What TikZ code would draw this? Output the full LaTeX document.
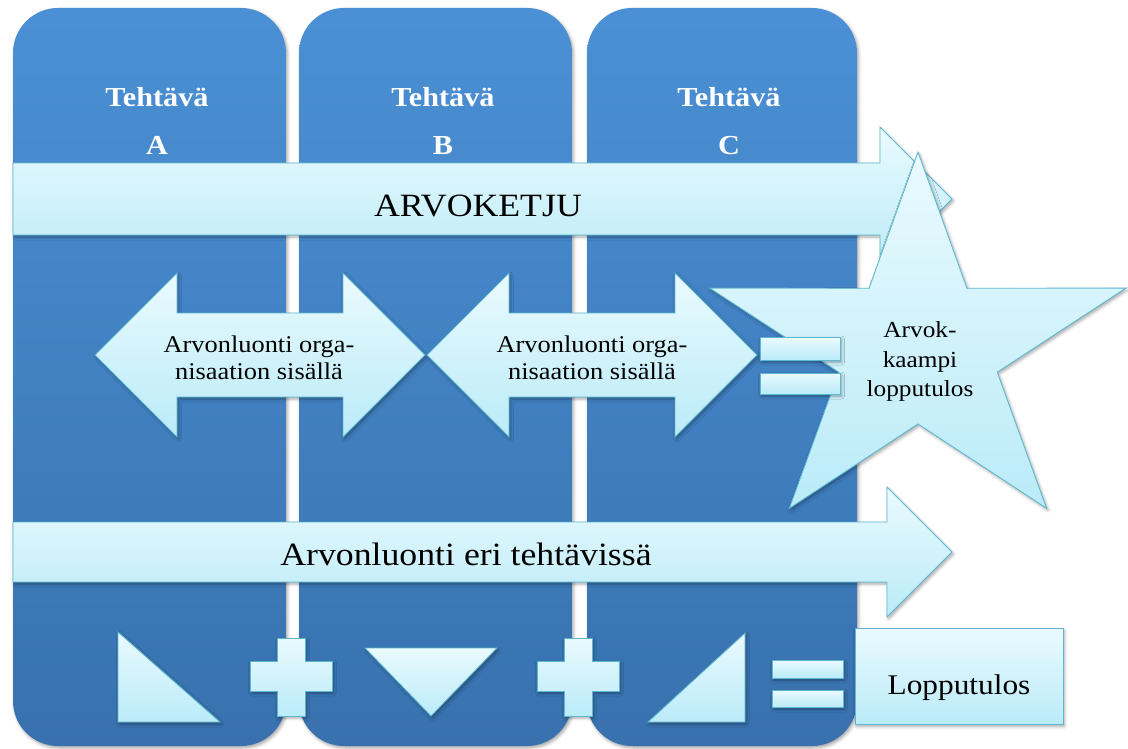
\documentclass[tikz,border=0pt]{standalone}
\usepackage{fontspec}
\setmainfont{Liberation Serif}[FakeStretch=1.1]
\usetikzlibrary{shadows.blur}
\definecolor{coltop}{RGB}{75,144,213}
\definecolor{colbot}{RGB}{56,113,174}
\definecolor{lighttop}{RGB}{234,250,254}
\definecolor{lightbot}{RGB}{186,235,248}
\definecolor{edgec}{RGB}{92,184,208}
\tikzset{
  shad/.style={blur shadow={shadow xshift=1.5pt,shadow yshift=-2pt,shadow blur radius=3pt,shadow opacity=35}},
  column/.style={top color=coltop, bottom color=colbot, draw=none, rounded corners=45pt, shad},
  lightshape/.style={top color=lighttop, bottom color=lightbot, draw=edgec, line width=0.9pt, shad},
  hdr/.style={text=white, anchor=base, inner sep=0pt, font=\fontsize{27.5}{30}\selectfont\bfseries},
  bigtxt/.style={text=black, anchor=base, inner sep=0pt, font=\fontsize{32.5}{36}\selectfont},
  midtxt/.style={text=black, anchor=base, inner sep=0pt, font=\fontsize{24}{27}\selectfont},
  startxt/.style={text=black, anchor=base, inner sep=0pt, font=\fontsize{23}{26}\selectfont},
  boxtxt/.style={text=black, anchor=base, inner sep=0pt, font=\fontsize{28.5}{30}\selectfont}
}
\begin{document}
\begin{tikzpicture}[x=1pt,y=-1pt]
\useasboundingbox (0,0) rectangle (1128,749);
% columns
\path[column] (13,8) rectangle (286,746);
\path[column] (299,8) rectangle (572,746);
\path[column] (587,8) rectangle (857,746);
% headers
\node[hdr] (hA1) at (157,107) {Tehtävä};
\node[hdr] (hA2) at (157,155) {A};
\node[hdr] (hB1) at (443,107) {Tehtävä};
\node[hdr] (hB2) at (443,155) {B};
\node[hdr] (hC1) at (729,107) {Tehtävä};
\node[hdr] (hC2) at (729,155) {C};
% ARVOKETJU arrow
\path[lightshape] (13,163) -- (880,163) -- (880,127) -- (952,199) -- (880,271) -- (880,235) -- (13,235) -- cycle;
\node[bigtxt] (arvoketju) at (478,217) {ARVOKETJU};
% double arrows
\path[lightshape] (95,355) -- (177,273) -- (177,313) -- (343,313) -- (343,273) -- (425,355) -- (343,437) -- (343,397) -- (177,397) -- (177,437) -- cycle;
\path[lightshape] (427,355) -- (509,273) -- (509,313) -- (675,313) -- (675,273) -- (757,355) -- (675,437) -- (675,397) -- (509,397) -- (509,437) -- cycle;
\node[midtxt] (d1a) at (259,352) {Arvonluonti orga-};
\node[midtxt] (d1b) at (259,379) {nisaation sisällä};
\node[midtxt] (d2a) at (592,352) {Arvonluonti orga-};
\node[midtxt] (d2b) at (592,379) {nisaation sisällä};
% bottom arrow
\path[lightshape] (13,522) -- (887,522) -- (887,487) -- (952,552) -- (887,617) -- (887,582) -- (13,582) -- cycle;
\node[bigtxt] (eri) at (466,565) {Arvonluonti eri tehtävissä};
% bottom row shapes
\path[lightshape] (118,632) -- (118,722) -- (220,722) -- cycle;
\foreach \cx in {291,578}{
  \path[lightshape] ({\cx-41},661) -- ({\cx-14},661) -- ({\cx-14},638) -- ({\cx+14},638) -- ({\cx+14},661) -- ({\cx+41},661) -- ({\cx+41},691) -- ({\cx+14},691) -- ({\cx+14},716) -- ({\cx-14},716) -- ({\cx-14},691) -- ({\cx-41},691) -- cycle;
}
\path[lightshape] (365,648) -- (497,648) -- (431,716) -- cycle;
\path[lightshape] (648,722) -- (745,722) -- (745,633) -- cycle;
\path[lightshape] (772,660) rectangle (843,678);
\path[lightshape] (772,690) rectangle (843,707);
% star
\path[lightshape] (918,152) -- (967,288.3) -- (1126,288.1) -- (997.3,372.2) -- (1046.7,508.4) -- (918,424) -- (789.3,508.4) -- (838.7,372.2) -- (709.7,288.1) -- (869,288.3) -- cycle;
\node[startxt] (s1) at (920,337) {Arvok-};
\node[startxt] (s2) at (920,367) {kaampi};
\node[startxt] (s3) at (920,396) {lopputulos};
% middle equals
\path[lightshape] (760,337) rectangle (840,360);
\path[lightshape] (760,373) rectangle (840,394);
% result box
\node[lightshape, minimum width=208pt, minimum height=96pt, inner sep=0pt] (box) at (959,676.5) {};
\node[boxtxt] (lopputulos) at (959,694) {Lopputulos};
\end{tikzpicture}
\end{document}
